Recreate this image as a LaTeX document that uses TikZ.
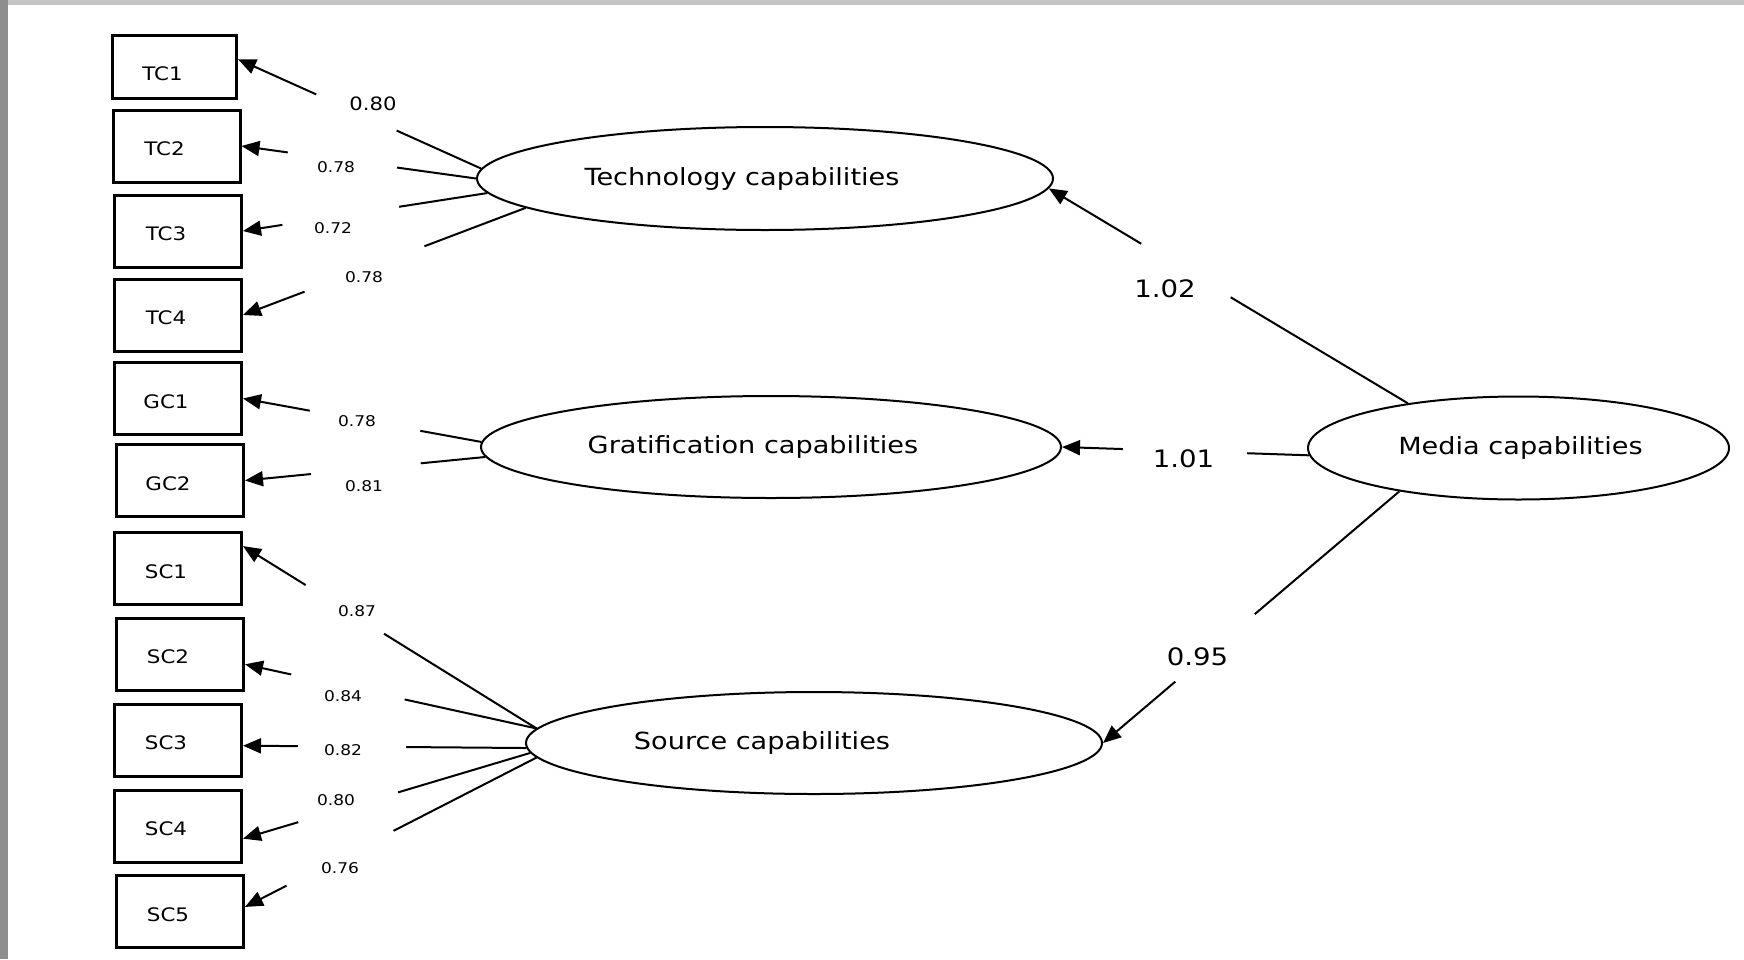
\documentclass[tikz,border=0pt]{standalone}
\usepackage{fontspec}
\setmainfont{DejaVu Sans}[FakeStretch=1.15]
\usetikzlibrary{arrows.meta,shapes.geometric}
\definecolor{frametop}{HTML}{C4C4C4}
\definecolor{frameleft}{HTML}{8E8E8E}
\tikzset{
  indicator/.style={draw, line width=1.5pt, minimum width=63.5pt, minimum height=36pt, inner sep=0pt},
  boxtext/.style={font=\fontsize{9.3}{11}\selectfont, xshift=-6pt, yshift=-1.5pt},
  ind/.style={indicator, label={[boxtext]center:#1}},
  latent/.style={draw, ellipse, line width=1pt, inner sep=0pt},
  lattext/.style={font=\fontsize{11.8}{14}\selectfont},
  loading/.style={line width=1pt, -{Triangle[length=9pt,width=7.5pt]}},
  breakgap/.style={sloped, fill=white, inner sep=0pt, minimum height=5pt, minimum width=#1},
  coef/.style={font=\fontsize{7.4}{9}\selectfont},
  pathcoef/.style={font=\fontsize{12}{14}\selectfont}
}
\begin{document}
\begin{tikzpicture}[x=0.5pt, y=-0.5pt]
  \useasboundingbox (0,0) rectangle (1744,959);
  \fill[frametop] (0,0) rectangle (1744,5);
  \fill[frameleft] (0,0) rectangle (8,959);

  \node[indicator, minimum width=62pt, minimum height=31.5pt,
    label={[boxtext, yshift=-2pt]center:TC1}] (tc1) at (174.5,67) {};
  \node[ind=TC2] (tc2) at (176.5,146) {};
  \node[ind=TC3] (tc3) at (178,231) {};
  \node[ind=TC4] (tc4) at (178,315) {};
  \node[ind=GC1] (gc1) at (178,398.5) {};
  \node[ind=GC2] (gc2) at (180,480.5) {};
  \node[ind=SC1] (sc1) at (178,568.5) {};
  \node[ind=SC2] (sc2) at (180,654) {};
  \node[ind=SC3] (sc3) at (178,740) {};
  \node[ind=SC4] (sc4) at (178,826) {};
  \node[ind=SC5] (sc5) at (180,911.5) {};

  \node[latent, minimum width=288pt, minimum height=51.5pt,
    label={[lattext, xshift=-11.5pt]center:Technology capabilities}] (tech) at (765,178.5) {};
  \node[latent, minimum width=290pt, minimum height=51pt,
    label={[lattext, xshift=-9pt]center:Gratification capabilities}] (grat) at (771,447) {};
  \node[latent, minimum width=288pt, minimum height=51pt,
    label={[lattext, xshift=-26pt]center:Source capabilities}] (src) at (814,743) {};
  \node[latent, minimum width=210.5pt, minimum height=51.5pt,
    label={[lattext, xshift=1pt]center:Media capabilities}] (media) at (1518.5,448) {};

  \begin{scope}[loading]
    \draw (tech.178) -- node[breakgap=44pt, pos=.513] {} (tc1.7);
    \draw (tech.180) -- node[breakgap=55pt, pos=.57] {} (tc2.east);
    \draw (tech.183) -- node[breakgap=59pt, pos=.6] {} (tc3.east);
    \draw (tech.187) -- node[breakgap=64pt, pos=.57] {} (tc4.east);
    \draw (grat.179) -- node[breakgap=56pt, pos=.488] {} (gc1.east);
    \draw (grat.182) -- node[breakgap=55pt, pos=.497] {} (gc2.east);
    \draw (src.177) -- node[breakgap=46pt, pos=.653] {} (sc1.19);
    \draw (src.177) -- node[breakgap=58pt, pos=.647] {} (sc2.-9);
    \draw (src.181) -- node[breakgap=54pt, pos=.615] {} (sc3.-5);
    \draw (src.182) -- node[breakgap=52pt, pos=.634] {} (sc4.-11);
    \draw (src.183) -- node[breakgap=60pt, pos=.674] {} (sc5.4);
    \draw (media.158) -- node[breakgap=52pt, pos=.618] {} (tech.358);
    \draw (media.182) -- node[breakgap=62pt, pos=.502] {} (grat.east);
    \draw (media.200) -- node[breakgap=52pt, pos=.622] {} (src.east);
  \end{scope}

  \node[coef, font=\fontsize{9.2}{11}\selectfont] (ltc1) at (373,104) {0.80};
  \node[coef] (ltc2) at (336,167) {0.78};
  \node[coef] (ltc3) at (333,228) {0.72};
  \node[coef] (ltc4) at (364,277) {0.78};
  \node[coef] (lgc1) at (357,421) {0.78};
  \node[coef] (lgc2) at (364,486) {0.81};
  \node[coef] (lsc1) at (357,611) {0.87};
  \node[coef] (lsc2) at (343,696) {0.84};
  \node[coef] (lsc3) at (343,750) {0.82};
  \node[coef] (lsc4) at (336,800) {0.80};
  \node[coef] (lsc5) at (340,868) {0.76};
  \node[pathcoef] (ltech) at (1165,288.5) {1.02};
  \node[pathcoef] (lgrat) at (1183.5,458.5) {1.01};
  \node[pathcoef] (lsrc) at (1197.5,656.5) {0.95};
\end{tikzpicture}
\end{document}
